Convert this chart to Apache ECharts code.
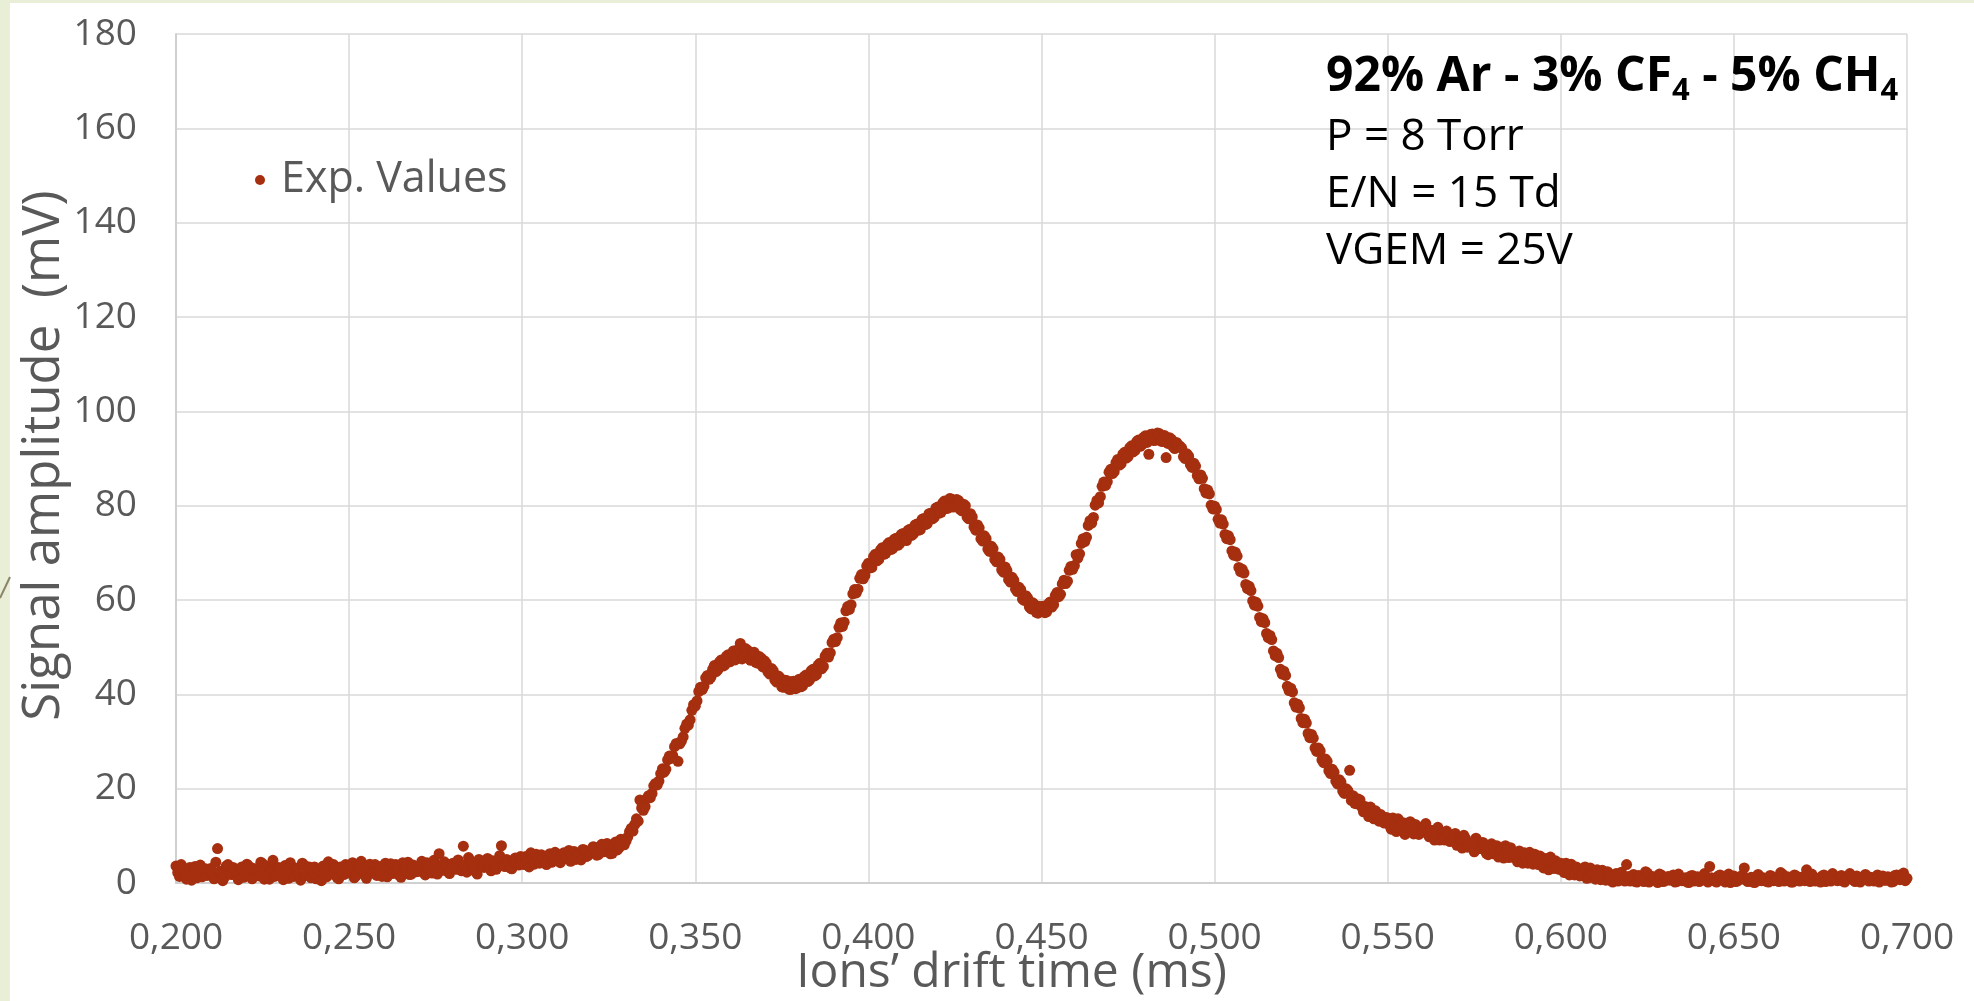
<!DOCTYPE html>
<html>
<head>
<meta charset="utf-8">
<script src="https://cdn.jsdelivr.net/npm/echarts@6/dist/echarts.min.js"></script>
<style>
  html, body { margin: 0; padding: 0; background: #e9eed6; }
  #chart { width: 1974px; height: 1001px; }
</style>
</head>
<body>
<div id="chart"></div>
<script>
// Drift-time axis (ms) and amplitude axis (mV)
const xRange = [0.2, 0.7];
const xTickStep = 0.05;
const yRange = [0, 180];
const yTickStep = 20;
const sampleStep = 0.001;   // on-grid samples start at xRange[0]
const halfStep = 0.0005;    // interleaved samples sit half a step later

// Signal amplitude (mV) at 0.200, 0.201, ... ms
// 0.200 – 0.329 ms: baseline before the ion arrival
const preRise = [
  3.6, 1.4, 2.9, 0.8, 3.3, 2.1, 1.1, 3.8, 2.4, 1.6,
  3.1, 0.9, 7.3, 2.5, 1.2, 3.9, 1.8, 2.7, 0.7, 3.4,
  2.0, 3.6, 0.9, 2.8, 1.5, 4.1, 2.3, 0.8, 4.8, 1.9,
  3.2, 0.7, 2.6, 4.3, 1.4, 3.0, 0.6, 3.8, 2.2, 1.1,
  3.4, 1.7, 0.5, 2.9, 4.5, 1.9, 3.2, 0.9, 2.5, 3.9,
  2.1, 4.3, 1.5, 3.1, 2.7, 1.0, 4.0, 2.3, 1.6, 3.5,
  2.8, 1.3, 4.1, 2.4, 3.7, 1.2, 3.0, 4.4, 1.9, 3.2,
  2.5, 4.6, 1.7, 3.4, 2.1, 3.9, 6.2, 2.7, 3.6, 2.0,
  4.2, 2.9, 3.5, 7.8, 2.3, 4.7, 3.1, 1.9, 4.1, 3.3,
  5.2, 2.6, 4.0, 4.8, 7.9, 3.5, 4.5, 3.0, 5.3, 3.8,
  4.7, 5.6, 3.4, 5.0, 6.1, 4.2, 5.4, 3.9, 6.2, 4.8,
  5.7, 4.3, 6.4, 5.1, 4.6, 6.7, 5.5, 4.9, 7.0, 5.8,
  6.5, 7.6, 6.0, 8.2, 6.9, 7.8, 6.3, 8.7, 7.5, 9.0
];
// 0.330 – 0.539 ms: the three ion peaks
const peakRegion = [
  8.9, 10.9, 11.0, 13.6, 17.6, 15.4, 17.9, 18.1, 20.6, 20.8,
  23.2, 23.5, 26.1, 26.4, 28.9, 25.8, 30.1, 32.8, 33.5, 36.6,
  37.5, 40.6, 41.0, 43.5, 43.2, 45.3, 44.8, 46.9, 46.0, 48.1,
  46.9, 49.2, 47.6, 50.8, 47.9, 49.4, 47.2, 48.9, 46.6, 47.7,
  47.1, 44.7, 45.5, 43.0, 43.9, 41.6, 43.0, 41.1, 42.7, 41.2,
  43.2, 41.8, 44.1, 43.0, 45.3, 44.2, 46.6, 45.9, 48.7, 48.8,
  51.7, 52.0, 55.1, 55.3, 58.6, 59.0, 62.2, 62.3, 65.4, 65.2,
  67.8, 66.9, 69.7, 68.6, 71.1, 69.9, 72.2, 70.9, 73.1, 71.9,
  74.1, 72.6, 75.0, 74.0, 76.1, 74.9, 77.3, 76.2, 78.4, 77.5,
  79.7, 78.6, 81.0, 79.5, 81.4, 79.8, 81.1, 78.9, 80.0, 77.2,
  77.6, 74.8, 75.3, 72.5, 73.0, 70.3, 70.9, 68.1, 68.6, 65.9,
  66.3, 63.8, 64.2, 61.8, 62.2, 59.9, 60.4, 58.1, 59.0, 57.2,
  58.6, 57.3, 59.2, 58.5, 61.0, 60.7, 63.4, 63.5, 66.3, 66.5,
  69.6, 69.8, 73.0, 73.3, 76.8, 77.5, 81.1, 81.9, 85.0, 85.1,
  87.7, 87.2, 89.8, 88.9, 91.3, 90.4, 92.7, 91.7, 93.9, 92.9,
  94.8, 90.9, 95.2, 93.9, 95.3, 93.6, 90.2, 94.4, 92.5, 93.4,
  92.6, 90.4, 91.0, 88.7, 89.0, 86.4, 86.5, 83.6, 83.3, 80.1,
  79.9, 77.1, 77.0, 73.9, 73.6, 70.4, 70.1, 66.9, 66.5, 63.3,
  62.9, 59.8, 59.5, 56.3, 56.0, 52.9, 52.5, 49.2, 48.7, 45.3,
  44.9, 41.7, 41.3, 38.2, 37.9, 34.9, 34.7, 31.7, 31.5, 28.6,
  28.6, 26.1, 26.3, 23.8, 24.1, 21.6, 21.9, 19.5, 20.0, 23.9
];
// 0.540 – 0.700 ms: decaying tail back to the baseline
const tail = [
  18.5, 16.8, 17.6, 15.1, 15.7, 16.1, 13.6, 14.1, 14.5, 12.7,
  13.8, 11.4, 12.7, 13.6, 11.4, 10.3, 12.3, 11.2, 12.4, 10.3,
  11.3, 12.6, 9.8, 10.3, 11.3, 9.1, 10.6, 11.0, 8.8, 9.2,
  8.0, 9.4, 10.1, 7.6, 8.4, 6.6, 8.8, 7.3, 8.2, 6.0,
  8.3, 6.5, 5.5, 7.2, 7.9, 5.4, 6.4, 5.8, 6.8, 4.2,
  5.8, 6.5, 4.0, 4.5, 5.7, 3.2, 4.8, 5.5, 3.1, 3.4,
  4.2, 2.2, 3.3, 4.0, 1.7, 2.9, 1.8, 3.4, 1.1, 2.0,
  0.8, 2.3, 2.7, 0.6, 1.6, 0.2, 2.0, 0.6, 1.2, 3.9,
  0.4, 1.8, 0.2, 1.5, 0.3, 2.1, 0.6, 1.2, 0.1, 1.7,
  0.4, 1.4, 0.8, 0.2, 1.9, 0.5, 1.1, 0.1, 1.6, 0.7,
  0.3, 1.3, 0.5, 3.5, 0.9, 0.2, 1.7, 0.6, 1.0, 0.1,
  1.5, 0.4, 0.8, 3.2, 0.3, 1.2, 0.1, 1.8, 0.5, 0.9,
  0.2, 1.4, 0.7, 0.3, 1.9, 0.6, 1.1, 0.2, 1.5, 0.4,
  1.0, 2.8, 0.3, 1.3, 0.6, 0.2, 1.7, 0.8, 0.4, 1.2,
  0.5, 1.6, 0.2, 0.9, 1.4, 0.3, 1.1, 0.6, 1.8, 0.4,
  0.8, 1.3, 0.2, 1.5, 0.6, 1.0, 0.3, 1.7, 0.7, 2.1,
  1.0
];

// Signal amplitude (mV) at 0.2005, 0.2015, ... ms
const preRiseMid = [
  2.2, 3.9, 1.6, 2.4, 0.6, 3.5, 2.7, 1.3, 3.0, 2.6,
  1.9, 4.4, 2.3, 0.5, 3.6, 2.0, 3.3, 1.5, 2.9, 1.2,
  4.0, 1.7, 3.1, 2.2, 4.4, 0.8, 3.5, 2.6, 1.4, 3.3,
  2.0, 3.7, 1.0, 2.4, 3.2, 1.8, 4.2, 1.6, 3.4, 2.9,
  0.9, 2.8, 3.6, 1.3, 2.5, 3.9, 1.2, 3.4, 1.8, 2.6,
  3.8, 1.1, 2.9, 4.6, 1.7, 3.2, 2.1, 3.9, 2.8, 1.4,
  4.2, 3.4, 2.0, 3.9, 1.6, 4.3, 2.5, 1.8, 3.8, 2.4,
  3.7, 2.2, 4.3, 2.9, 4.8, 1.9, 3.3, 4.5, 2.4, 4.0,
  3.0, 4.9, 2.6, 3.8, 5.4, 3.0, 2.4, 5.0, 3.6, 4.6,
  3.4, 4.7, 2.9, 5.8, 3.7, 5.0, 3.2, 4.9, 4.1, 5.6,
  3.9, 4.5, 6.4, 4.0, 5.1, 6.0, 4.6, 5.7, 4.4, 6.5,
  4.9, 6.1, 5.3, 6.9, 5.9, 5.0, 6.2, 7.1, 5.6, 6.6,
  7.7, 5.9, 7.2, 6.6, 8.4, 6.2, 8.1, 7.0, 9.3, 8.1
];
const peakRegionMid = [
  9.8, 11.6, 12.4, 13.1, 15.9, 16.2, 18.5, 19.0, 21.1, 21.6,
  24.2, 24.1, 26.9, 27.0, 29.6, 29.5, 31.0, 33.7, 34.6, 37.8,
  38.6, 41.5, 41.7, 44.0, 43.6, 46.1, 45.2, 47.3, 46.2, 48.4,
  48.5, 47.3, 49.6, 47.5, 49.7, 47.5, 48.8, 46.8, 48.0, 45.8,
  46.6, 44.3, 45.0, 42.6, 43.5, 41.5, 42.9, 41.0, 42.8, 41.4,
  41.6, 43.8, 42.7, 45.0, 43.9, 46.2, 45.4, 48.1, 47.9, 51.0,
  51.2, 54.2, 54.4, 57.7, 58.0, 61.3, 61.5, 64.6, 64.5, 67.2,
  66.8, 69.2, 68.3, 70.6, 69.7, 71.8, 70.7, 72.9, 71.6, 73.9,
  72.8, 74.8, 73.7, 75.9, 74.8, 77.1, 76.0, 78.3, 77.2, 79.5,
  78.4, 80.6, 79.4, 81.5, 79.7, 81.3, 79.2, 80.3, 77.6, 78.3,
  75.5, 75.9, 73.0, 73.6, 70.8, 71.4, 68.6, 69.1, 66.4, 67.0,
  64.3, 64.8, 62.3, 62.7, 60.2, 60.9, 58.5, 59.4, 57.4, 58.6,
  58.7, 57.5, 59.6, 59.0, 61.6, 61.2, 64.2, 64.0, 67.1, 67.3,
  68.9, 72.0, 72.4, 75.8, 76.3, 80.1, 80.6, 84.1, 84.3, 87.1,
  86.8, 89.1, 88.6, 90.9, 90.1, 92.3, 91.4, 93.6, 92.6, 94.5,
  93.4, 95.1, 93.8, 95.4, 93.7, 94.9, 93.2, 94.1, 92.1, 92.9,
  92.2, 90.0, 90.5, 88.1, 88.4, 85.7, 85.8, 82.7, 82.5, 79.3,
  79.2, 76.3, 76.1, 73.0, 72.8, 69.5, 69.3, 66.0, 65.7, 62.4,
  62.0, 58.9, 58.7, 55.4, 55.2, 52.0, 51.6, 48.2, 47.8, 44.3,
  44.0, 40.8, 40.5, 37.3, 37.1, 34.0, 33.9, 30.8, 30.7, 27.9,
  28.0, 25.5, 25.8, 23.2, 23.5, 21.0, 21.4, 19.0, 19.6, 17.5
];
const tailMid = [
  16.9, 17.8, 16.1, 16.2, 14.1, 15.0, 15.3, 13.1, 13.6, 13.9,
  12.3, 13.8, 10.9, 12.3, 12.8, 10.9, 13.0, 10.4, 11.7, 10.8,
  12.1, 10.4, 11.2, 9.1, 11.8, 10.5, 9.1, 10.4, 9.1, 10.5,
  9.4, 7.4, 9.4, 8.4, 7.4, 9.5, 7.3, 8.6, 6.3, 7.5,
  6.2, 7.9, 6.9, 5.3, 7.1, 7.5, 5.4, 4.5, 6.1, 6.4,
  4.2, 5.3, 6.1, 3.9, 4.4, 5.2, 2.8, 4.4, 4.7, 2.9,
  2.7, 4.2, 1.7, 3.1, 3.4, 1.5, 2.7, 1.0, 3.2, 1.5,
  2.8, 0.7, 1.7, 2.4, 0.5, 1.8, 0.4, 2.3, 0.4, 1.4,
  1.2, 0.3, 1.6, 0.5, 2.4, 0.2, 1.4, 0.7, 1.9, 0.3,
  1.1, 0.6, 1.7, 0.3, 1.2, 0.9, 0.2, 1.5, 0.4, 1.3,
  0.8, 2.0, 0.2, 1.1, 0.4, 1.5, 0.7, 0.2, 1.9, 0.6,
  0.3, 1.1, 1.7, 0.6, 0.9, 0.2, 1.4, 0.6, 1.1, 0.3,
  1.6, 0.5, 1.0, 2.2, 0.4, 1.3, 0.2, 1.7, 0.6, 1.2,
  0.5, 1.2, 1.9, 0.4, 1.0, 1.5, 0.3, 1.2, 2.0, 0.6,
  1.3, 0.4, 1.1, 2.0, 0.6, 1.5, 0.2, 1.3, 0.7, 1.2,
  0.4, 1.7, 0.9, 0.6, 1.3, 0.2, 1.6, 0.9, 1.4, 0.5
];

const seriesName = 'Exp. Values';
const mixtureParts = ['92% Ar - 3% CF', '4', ' - 5% CH', '4'];
const conditionLines = ['P = 8 Torr', 'E/N = 15 Td', 'VGEM = 25V'];

const onGrid = preRise.concat(peakRegion, tail);
const offGrid = preRiseMid.concat(peakRegionMid, tailMid);
const points = [];
onGrid.forEach((v, i) => {
  const t = xRange[0] + i * sampleStep;
  points.push([+t.toFixed(4), v]);
  if (i < offGrid.length) points.push([+(t + halfStep).toFixed(4), offGrid[i]]);
});

const greyText = '#595959';
const dotColor = '#a52f0f';
const uiFont = '"Open Sans", "Noto Sans", sans-serif';

const chart = echarts.init(document.getElementById('chart'), null, { renderer: 'canvas' });

chart.setOption({
  animation: false,
  backgroundColor: '#e9eed6',
  grid: { left: 176, right: 67, top: 34, bottom: 118, outerBoundsMode: 'none', containLabel: false },
  legend: {
    data: [seriesName],
    left: 250,
    top: 153,
    icon: 'circle',
    itemWidth: 10,
    itemHeight: 10,
    textStyle: { color: greyText, fontFamily: uiFont, fontSize: 43, lineHeight: 44, padding: [0, 0, 0, 11] }
  },
  xAxis: {
    type: 'value',
    min: xRange[0],
    max: xRange[1],
    interval: xTickStep,
    name: 'Ions\u2019 drift time (ms)',
    nameLocation: 'middle',
    nameGap: 66,
    nameMoveOverlap: false,
    nameTextStyle: { color: greyText, fontFamily: uiFont, fontSize: 48, padding: [0, 60, 0, 0] },
    axisLine: { show: true, lineStyle: { color: '#d0d0d0', width: 2 } },
    axisTick: { show: false },
    axisLabel: {
      color: greyText, fontFamily: uiFont, fontSize: 37, margin: 37,
      formatter: v => v.toFixed(3).replace('.', ',')
    },
    splitLine: { show: true, lineStyle: { color: '#d9d9d9', width: 1.5 } }
  },
  yAxis: {
    type: 'value',
    min: yRange[0],
    max: yRange[1],
    interval: yTickStep,
    name: 'Signal amplitude  (mV)',
    nameLocation: 'middle',
    nameGap: 106,
    nameMoveOverlap: false,
    nameTextStyle: { color: greyText, fontFamily: uiFont, fontSize: 51, padding: [0, 0, 0, 6] },
    axisLine: { show: true, lineStyle: { color: '#d0d0d0', width: 2 } },
    axisTick: { show: false },
    axisLabel: { color: greyText, fontFamily: uiFont, fontSize: 37, margin: 39 },
    splitLine: { show: true, lineStyle: { color: '#d9d9d9', width: 1.5 } }
  },
  series: [{
    name: seriesName,
    type: 'scatter',
    data: points,
    symbol: 'circle',
    symbolSize: 11,
    itemStyle: { color: dotColor, opacity: 1 },
    emphasis: { disabled: true }
  }],
  graphic: [
    {
      type: 'rect', z: -100, silent: true,
      shape: { x: 10, y: 3, width: 1964, height: 998 },
      style: { fill: '#ffffff' }
    },
    {
      type: 'line', silent: true,
      shape: { x1: 0, y1: 598, x2: 10, y2: 577 },
      style: { stroke: '#8a8468', lineWidth: 2 }
    },
    {
      type: 'text', left: 1326, top: 53, z: 100, silent: true,
      style: {
        text: '{b|' + mixtureParts[0] + '}{s|' + mixtureParts[1] + '}{b|' + mixtureParts[2] + '}{s|' + mixtureParts[3] + '}',
        rich: {
          b: { fontFamily: uiFont, fontWeight: 'bold', fontSize: 48, fill: '#000', lineHeight: 60 },
          s: { fontFamily: uiFont, fontWeight: 'bold', fontSize: 31, fill: '#000', lineHeight: 32, verticalAlign: 'bottom' }
        }
      }
    },
    {
      type: 'text', left: 1326, top: 109, z: 100, silent: true,
      style: {
        text: conditionLines.join('\n'),
        fontFamily: uiFont, fontSize: 44, lineHeight: 57, fill: '#000'
      }
    }
  ]
});
</script>
</body>
</html>
